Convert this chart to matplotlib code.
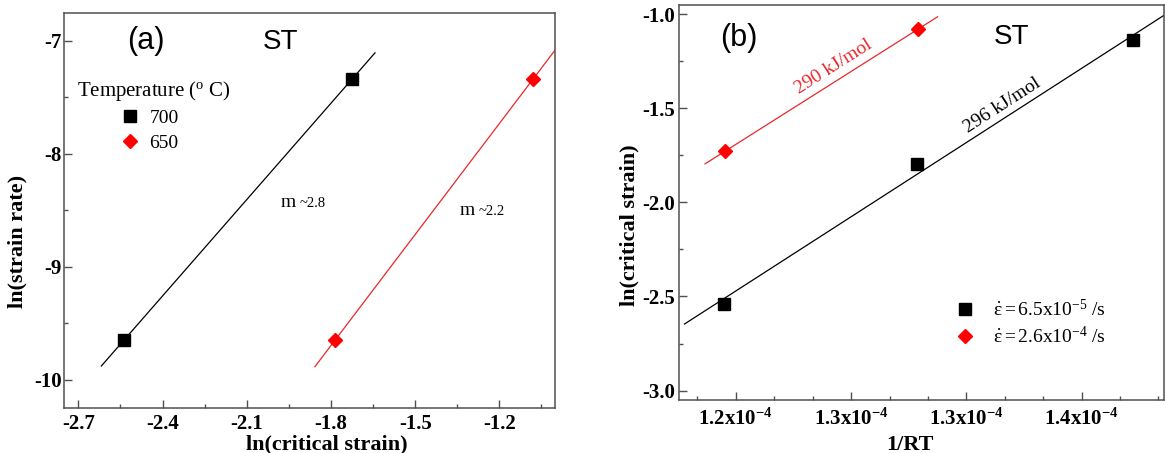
import numpy as np
import matplotlib.pyplot as plt
from matplotlib.ticker import FixedLocator, MultipleLocator

plt.rcParams['font.family'] = 'Liberation Serif'
plt.rcParams['mathtext.fontset'] = 'custom'
plt.rcParams['mathtext.rm'] = 'Liberation Serif'
plt.rcParams['mathtext.it'] = 'Liberation Serif:italic'
plt.rcParams['mathtext.bf'] = 'Liberation Serif:bold'
plt.rcParams['axes.unicode_minus'] = False

# ---- panel (a): ln(strain rate) vs ln(critical strain)
a_x_700 = [-2.536, -1.725]
a_y_700 = [-9.645, -7.340]
a_x_650 = [-1.784, -1.080]
a_y_650 = [-9.645, -7.340]
a_fit_700 = [-2.618, -1.643]   # x extent of the fitted lines
a_fit_650 = [-1.857, -1.0]
a_xticks = [-2.7, -2.4, -2.1, -1.8, -1.5, -1.2]
a_yticks = [-10, -9, -8, -7]

# ---- panel (b): ln(critical strain) vs 1/RT
b_x_slow = [1.1950e-4, 1.2786e-4, 1.3723e-4]
b_y_slow = [-2.539, -1.796, -1.138]
b_x_fast = [1.1952e-4, 1.2790e-4]
b_y_fast = [-1.729, -1.080]
b_fit_slow = [1.1777e-4, 1.3857e-4]
b_fit_fast = [1.1866e-4, 1.2875e-4]
b_xticks = [1.20e-4, 1.25e-4, 1.30e-4, 1.35e-4]
b_xticklabels = [r'1.2x10$^{\mathbf{-4}}$', r'1.3x10$^{\mathbf{-4}}$',
                 r'1.3x10$^{\mathbf{-4}}$', r'1.4x10$^{\mathbf{-4}}$']
b_yticks = [-3.0, -2.5, -2.0, -1.5, -1.0]

RED = '#ff0000'
LRED = '#e8282a'
SPINE = '#505050'


def fit_line(ax, x, y, xr, color):
    p = np.polyfit(x, y, 1)
    xx = np.array(xr)
    ax.plot(xx, np.polyval(p, xx), color=color, lw=0.9, zorder=2)


def style(ax, ypad):
    for s in ax.spines.values():
        s.set_color(SPINE)
        s.set_linewidth(1.1)
    ax.tick_params(which='both', direction='in', color=SPINE, top=False, right=False)
    ax.tick_params(which='major', length=5.5, width=1.0)
    ax.tick_params(which='minor', length=3, width=1.0)
    ax.tick_params(axis='y', pad=ypad)
    for lab in ax.get_xticklabels() + ax.get_yticklabels():
        lab.set_fontweight('bold')
        lab.set_fontsize(15)


fig = plt.figure(figsize=(11.65, 4.53), dpi=100)

# ================= (a)
axa = fig.add_axes([0.0552, 0.0993, 0.4216, 0.8731])
fit_line(axa, a_x_700, a_y_700, a_fit_700, 'black')
fit_line(axa, a_x_650, a_y_650, a_fit_650, LRED)
axa.plot(a_x_700, a_y_700, 's', ms=8, color='black', ls='none', label='700', zorder=3)
axa.plot(a_x_650, a_y_650, 'D', ms=7.5, color=RED, ls='none', label='650', zorder=3)
axa.set_xlim(-2.75, -1.0)
axa.set_ylim(-10.25, -6.75)
axa.xaxis.set_major_locator(FixedLocator(a_xticks))
axa.xaxis.set_minor_locator(MultipleLocator(0.15))
axa.yaxis.set_major_locator(FixedLocator(a_yticks))
axa.yaxis.set_minor_locator(MultipleLocator(0.5))
axa.tick_params(axis='x', pad=4)
style(axa, 2.0)
axa.set_xlabel('ln(critical strain)', fontsize=16, fontweight='bold')
axa.set_ylabel('ln(strain rate)', fontsize=16, fontweight='bold')
axa.xaxis.set_label_coords(0.534, -0.066)
axa.yaxis.set_label_coords(-0.074, 0.422)

axa.text(-2.458, -7.0, '(a)', fontsize=22, family='Liberation Sans', ha='center', va='center')
axa.text(-1.981, -7.01, 'ST', fontsize=20, family='Liberation Sans', ha='center', va='center')
axa.text(-2.706, -7.485, r'Temperature ($^{\mathrm{o}}$ C)', fontsize=15, ha='left', va='baseline')
axa.legend(loc='center left', bbox_to_anchor=(0.0943, 0.7016), frameon=False,
           fontsize=14, handlelength=1.0, handletextpad=0.5, borderpad=0,
           labelspacing=0.35, numpoints=1)
axa.text(-1.978, -8.47, 'm', fontsize=14, ha='left', va='baseline')
axa.text(-1.912, -8.47, '~2.8', fontsize=10.5, ha='left', va='baseline')
axa.text(-1.340, -8.538, 'm', fontsize=14, ha='left', va='baseline')
axa.text(-1.274, -8.538, '~2.2', fontsize=10.5, ha='left', va='baseline')

# ================= (b)
axb = fig.add_axes([0.5826, 0.117, 0.4165, 0.8726])
fit_line(axb, b_x_slow, b_y_slow, b_fit_slow, 'black')
fit_line(axb, b_x_fast, b_y_fast, b_fit_fast, LRED)
axb.plot(b_x_slow, b_y_slow, 's', ms=8, color='black', ls='none',
         label='$\\dot{\\mathrm{\u03b5}}=$6.5x10$^{-5}$ /s', zorder=3)
axb.plot(b_x_fast, b_y_fast, 'D', ms=7.5, color=RED, ls='none',
         label='$\\dot{\\mathrm{\u03b5}}=$2.6x10$^{-4}$ /s', zorder=3)
axb.set_xlim(1.1752e-4, 1.3857e-4)
axb.set_ylim(-3.05, -0.95)
axb.xaxis.set_major_locator(FixedLocator(b_xticks))
axb.set_xticklabels(b_xticklabels)
axb.xaxis.set_minor_locator(MultipleLocator(5e-6 / 3))
axb.yaxis.set_major_locator(FixedLocator(b_yticks))
axb.yaxis.set_minor_locator(MultipleLocator(0.25))
axb.yaxis.set_major_formatter(plt.FormatStrFormatter('%.1f'))
axb.tick_params(axis='x', pad=6)
style(axb, 2.7)
axb.set_xlabel('1/RT', fontsize=16, fontweight='bold')
axb.set_ylabel('ln(critical strain)', fontsize=16, fontweight='bold')
axb.xaxis.set_label_coords(0.4766, -0.0885)
axb.yaxis.set_label_coords(-0.080, 0.443)

axb.text(1.2013e-4, -1.129, '(b)', fontsize=22, family='Liberation Sans', ha='center', va='center')
axb.text(1.3194e-4, -1.12, 'ST', fontsize=20, family='Liberation Sans', ha='center', va='center')
axb.text(1.2424e-4, -1.280, '290 kJ/mol', fontsize=14, color=LRED, rotation=32.3,
         rotation_mode='anchor', ha='center', va='center')
axb.text(1.3157e-4, -1.486, '296 kJ/mol', fontsize=14, color='black', rotation=32.8,
         rotation_mode='anchor', ha='center', va='center')
axb.legend(loc='center left', bbox_to_anchor=(0.5494, 0.1948), frameon=False,
           fontsize=14, handlelength=1.0, handletextpad=0.94, borderpad=0,
           labelspacing=0.3, numpoints=1)

fig.savefig('out.png', dpi=100)
